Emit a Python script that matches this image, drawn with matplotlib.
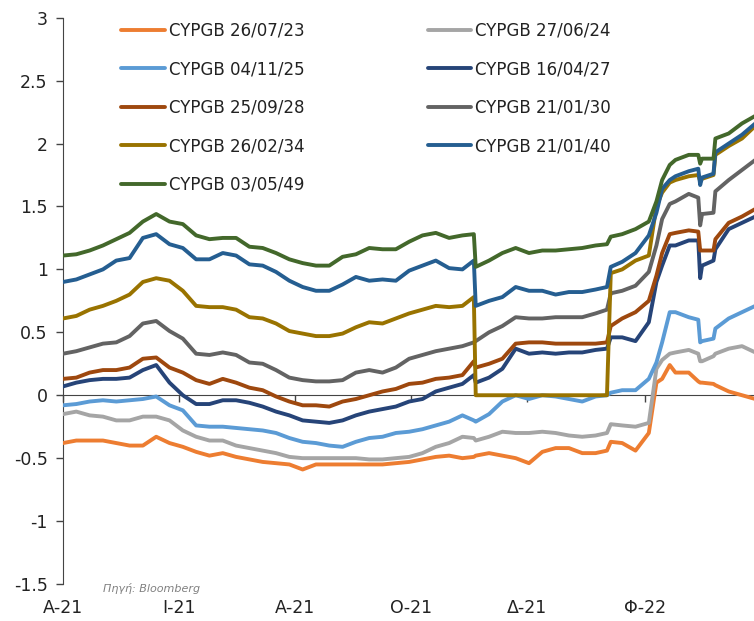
import matplotlib
matplotlib.use("Agg")
import matplotlib.pyplot as plt
import datetime as dt

plt.rcParams['font.family'] = ['DejaVu Sans']
plt.rcParams['axes.unicode_minus'] = False

dates = ["2021-04-01", "2021-04-08", "2021-04-15", "2021-04-22", "2021-04-29",
         "2021-05-06", "2021-05-13", "2021-05-20", "2021-05-27", "2021-06-03",
         "2021-06-10", "2021-06-17", "2021-06-24", "2021-07-01", "2021-07-08",
         "2021-07-15", "2021-07-22", "2021-07-29", "2021-08-05", "2021-08-12",
         "2021-08-19", "2021-08-26", "2021-09-02", "2021-09-09", "2021-09-16",
         "2021-09-23", "2021-09-30", "2021-10-07", "2021-10-14", "2021-10-21",
         "2021-10-28", "2021-11-03", "2021-11-04", "2021-11-11", "2021-11-18",
         "2021-11-25", "2021-12-02", "2021-12-09", "2021-12-16", "2021-12-23",
         "2021-12-30", "2022-01-06", "2022-01-12", "2022-01-14", "2022-01-20",
         "2022-01-27", "2022-02-03", "2022-02-07", "2022-02-10", "2022-02-14",
         "2022-02-17", "2022-02-24", "2022-03-01", "2022-03-02", "2022-03-03",
         "2022-03-09", "2022-03-10", "2022-03-17", "2022-03-24", "2022-03-31"]

cypgb_230726 = [-0.38, -0.36, -0.36, -0.36, -0.38, -0.40, -0.40, -0.33, -0.38, -0.41,
                -0.45, -0.48, -0.46, -0.49, -0.51, -0.53, -0.54, -0.55, -0.59, -0.55,
                -0.55, -0.55, -0.55, -0.55, -0.55, -0.54, -0.53, -0.51, -0.49, -0.48,
                -0.50, -0.49, -0.48, -0.46, -0.48, -0.50, -0.54, -0.45, -0.42, -0.42,
                -0.46, -0.46, -0.44, -0.37, -0.38, -0.44, -0.30, 0.10, 0.13, 0.24,
                0.18, 0.18, 0.11, 0.10, 0.10, 0.09, 0.08, 0.03, 0.00, -0.03]

cypgb_240627 = [-0.15, -0.13, -0.16, -0.17, -0.20, -0.20, -0.17, -0.17, -0.20, -0.28,
                -0.33, -0.36, -0.36, -0.40, -0.42, -0.44, -0.46, -0.49, -0.50, -0.50,
                -0.50, -0.50, -0.50, -0.51, -0.51, -0.50, -0.49, -0.46, -0.41, -0.38,
                -0.33, -0.34, -0.36, -0.33, -0.29, -0.30, -0.30, -0.29, -0.30, -0.32,
                -0.33, -0.32, -0.30, -0.23, -0.24, -0.25, -0.22, 0.21, 0.28, 0.33,
                0.34, 0.36, 0.33, 0.27, 0.27, 0.31, 0.33, 0.37, 0.39, 0.34]

cypgb_251104 = [-0.08, -0.07, -0.05, -0.04, -0.05, -0.04, -0.03, -0.01, -0.08, -0.12,
                -0.24, -0.25, -0.25, -0.26, -0.27, -0.28, -0.30, -0.34, -0.37, -0.38,
                -0.40, -0.41, -0.37, -0.34, -0.33, -0.30, -0.29, -0.27, -0.24, -0.21,
                -0.16, -0.20, -0.21, -0.15, -0.05, 0.00, -0.03, 0.00, -0.01, -0.03,
                -0.05, -0.01, 0.00, 0.02, 0.04, 0.04, 0.13, 0.26, 0.42, 0.66,
                0.66, 0.62, 0.60, 0.42, 0.43, 0.45, 0.53, 0.61, 0.66, 0.71]

cypgb_270416 = [0.07, 0.10, 0.12, 0.13, 0.13, 0.14, 0.20, 0.24, 0.10, 0.00,
                -0.07, -0.07, -0.04, -0.04, -0.06, -0.09, -0.13, -0.16, -0.20, -0.21,
                -0.22, -0.20, -0.16, -0.13, -0.11, -0.09, -0.05, -0.03, 0.03, 0.06,
                0.09, 0.16, 0.10, 0.14, 0.21, 0.37, 0.33, 0.34, 0.33, 0.34,
                0.34, 0.36, 0.37, 0.46, 0.46, 0.43, 0.58, 0.90, 1.03, 1.19,
                1.19, 1.23, 1.23, 0.93, 1.03, 1.07, 1.16, 1.32, 1.37, 1.42]

cypgb_280925 = [0.13, 0.14, 0.18, 0.20, 0.20, 0.22, 0.29, 0.30, 0.22, 0.18,
                0.12, 0.09, 0.13, 0.10, 0.06, 0.04, -0.01, -0.05, -0.08, -0.08,
                -0.09, -0.05, -0.03, 0.00, 0.03, 0.05, 0.09, 0.10, 0.13, 0.14,
                0.16, 0.27, 0.22, 0.25, 0.29, 0.41, 0.42, 0.42, 0.41, 0.41,
                0.41, 0.41, 0.42, 0.55, 0.61, 0.66, 0.75, 0.95, 1.13, 1.28,
                1.29, 1.31, 1.30, 1.15, 1.15, 1.15, 1.24, 1.37, 1.42, 1.48]

cypgb_300121 = [0.33, 0.35, 0.38, 0.41, 0.42, 0.47, 0.57, 0.59, 0.51, 0.45,
                0.33, 0.32, 0.34, 0.32, 0.26, 0.25, 0.20, 0.14, 0.12, 0.11,
                0.11, 0.12, 0.18, 0.20, 0.18, 0.22, 0.29, 0.32, 0.35, 0.37,
                0.39, 0.42, 0.43, 0.50, 0.55, 0.62, 0.61, 0.61, 0.62, 0.62,
                0.62, 0.65, 0.68, 0.81, 0.83, 0.87, 0.98, 1.19, 1.40, 1.52,
                1.54, 1.60, 1.57, 1.35, 1.44, 1.45, 1.62, 1.71, 1.79, 1.87]

cypgb_340226 = [0.61, 0.63, 0.68, 0.71, 0.75, 0.80, 0.90, 0.93, 0.91, 0.83,
                0.71, 0.70, 0.70, 0.68, 0.62, 0.61, 0.57, 0.51, 0.49, 0.47,
                0.47, 0.49, 0.54, 0.58, 0.57, 0.61, 0.65, 0.68, 0.71, 0.70,
                0.71, 0.78, 0.00, 0.00, 0.00, 0.00, 0.00, 0.00, 0.00, 0.00,
                0.00, 0.00, 0.00, 0.97, 1.00, 1.07, 1.11, 1.50, 1.61, 1.69,
                1.71, 1.74, 1.75, 1.70, 1.72, 1.75, 1.91, 1.98, 2.04, 2.14]

cypgb_400121 = [0.90, 0.92, 0.96, 1.00, 1.07, 1.09, 1.25, 1.28, 1.20, 1.17,
                1.08, 1.08, 1.13, 1.11, 1.04, 1.03, 0.98, 0.91, 0.86, 0.83,
                0.83, 0.88, 0.94, 0.91, 0.92, 0.91, 0.99, 1.03, 1.07, 1.01,
                1.00, 1.07, 0.71, 0.75, 0.78, 0.86, 0.83, 0.83, 0.80, 0.82,
                0.82, 0.84, 0.86, 1.02, 1.06, 1.13, 1.27, 1.45, 1.64, 1.71,
                1.74, 1.78, 1.80, 1.67, 1.73, 1.76, 1.93, 2.00, 2.07, 2.16]

cypgb_490503 = [1.11, 1.12, 1.15, 1.19, 1.24, 1.29, 1.38, 1.44, 1.38, 1.36,
                1.27, 1.24, 1.25, 1.25, 1.18, 1.17, 1.13, 1.08, 1.05, 1.03,
                1.03, 1.10, 1.12, 1.17, 1.16, 1.16, 1.22, 1.27, 1.29, 1.25,
                1.27, 1.28, 1.02, 1.07, 1.13, 1.17, 1.13, 1.15, 1.15, 1.16,
                1.17, 1.19, 1.20, 1.26, 1.28, 1.32, 1.38, 1.54, 1.71, 1.83,
                1.87, 1.91, 1.91, 1.84, 1.88, 1.88, 2.04, 2.08, 2.16, 2.22]

series_names = ["CYPGB 26/07/23", "CYPGB 27/06/24", "CYPGB 04/11/25", "CYPGB 16/04/27",
                "CYPGB 25/09/28", "CYPGB 21/01/30", "CYPGB 26/02/34", "CYPGB 21/01/40",
                "CYPGB 03/05/49"]
series_values = [cypgb_230726, cypgb_240627, cypgb_251104, cypgb_270416, cypgb_280925,
                 cypgb_300121, cypgb_340226, cypgb_400121, cypgb_490503]
series_colors = ["#ED7D31", "#A5A5A5", "#5B9BD5", "#264478", "#9E480E",
                 "#636363", "#997300", "#255E91", "#43682B"]

tick_dates = ["2021-04-01", "2021-06-01", "2021-08-01", "2021-10-01", "2021-12-01", "2022-02-01"]
tick_labels = ["Α-21", "Ι-21", "Α-21", "Ο-21", "Δ-21", "Φ-22"]
y_ticks = [-1.5, -1, -0.5, 0, 0.5, 1, 1.5, 2, 2.5, 3]
y_tick_labels = ["-1.5", "-1", "-0.5", "0", "0.5", "1", "1.5", "2", "2.5", "3"]

W, H = 754, 621
fig = plt.figure(figsize=(W / 100, H / 100), dpi=100)
ax_left, ax_right = 63, 754
ax_top, ax_bottom = 17.7, 584
ax = fig.add_axes([ax_left / W, (H - ax_bottom) / H, (ax_right - ax_left) / W, (ax_bottom - ax_top) / H])

x = [dt.datetime.strptime(d, "%Y-%m-%d") for d in dates]
handles = {}
for name, vals, col in zip(series_names, series_values, series_colors):
    h, = ax.plot(x, vals, color=col, lw=2.8, zorder=3, solid_joinstyle='round', solid_capstyle='round')
    handles[name] = h

x0 = dt.datetime(2021, 4, 1)
ax.set_xlim(x0, x0 + dt.timedelta(days=(ax_right - ax_left) / 1.902))
ax.set_ylim(-1.5, 3)

# y axis
ax.set_yticks(y_ticks)
ax.set_yticklabels(y_tick_labels, fontsize=12.5, color="#222222")
ax.tick_params(axis='y', direction='out', length=5, width=1, color='#444444', pad=6)

# x axis line at zero
for s in ['top', 'right']:
    ax.spines[s].set_visible(False)
ax.spines['bottom'].set_position(('data', 0))
ax.spines['bottom'].set_color('#444444')
ax.spines['left'].set_color('#444444')
ax.spines['bottom'].set_zorder(2)
tick_x = [dt.datetime.strptime(d, "%Y-%m-%d") for d in tick_dates]
ax.set_xticks(tick_x)
ax.set_xticklabels([])
ax.tick_params(axis='x', direction='out', length=5, width=1, color='#444444')

sec = ax.secondary_xaxis(0.0)
sec.set_xticks(tick_x)
sec.set_xticklabels(tick_labels, fontsize=12.5, color="#222222")
sec.tick_params(axis='x', length=0, pad=11)
sec.spines['bottom'].set_visible(False)

# legend (row-wise order emulated)
order = [0, 2, 4, 6, 8, 1, 3, 5, 7]
leg = ax.legend([handles[series_names[i]] for i in order], [series_names[i] for i in order],
                ncol=2, loc='upper left', bbox_to_anchor=(0.075, 1.005), frameon=False,
                fontsize=12, handlelength=2.6, handletextpad=0.25, labelspacing=1.23,
                columnspacing=7.4, borderaxespad=0)
for t in leg.get_texts():
    t.set_color("#222222")

fig.text(103 / W, 1 - 588 / H, "Πηγή: Bloomberg", fontsize=8, style='italic', color='#808080',
         va='center', ha='left')

fig.savefig("out.png", dpi=100)
